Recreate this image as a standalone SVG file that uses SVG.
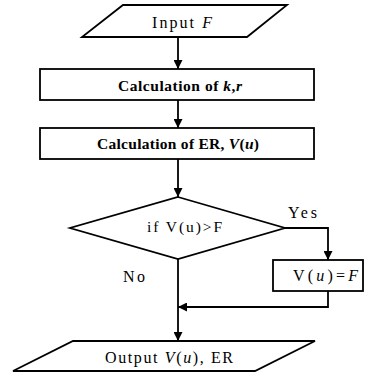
<svg xmlns="http://www.w3.org/2000/svg" width="382" height="376" viewBox="0 0 382 376">
<style>
.s{fill:#fff;stroke:#000;stroke-width:1.8}
.c{fill:none;stroke:#000;stroke-width:1.8}
text{font-family:"Liberation Serif","Times New Roman",serif;font-size:16px;fill:#000}
.b{font-weight:bold;font-size:15.5px}
.m{font-size:15.5px}
.i{font-style:italic}
</style>
<defs>
<marker id="a" viewBox="0 0 10 10" refX="10" refY="5" markerWidth="9" markerHeight="9" markerUnits="userSpaceOnUse" orient="auto">
<path d="M0,0 L10,5 L0,10 z" fill="#000"/>
</marker>
</defs>
<rect width="382" height="376" fill="#fff"/>
<g id="connectors">
<line class="c" x1="178" y1="37" x2="178" y2="69" marker-end="url(#a)"/>
<line class="c" x1="178" y1="100" x2="178" y2="128" marker-end="url(#a)"/>
<line class="c" x1="178" y1="159" x2="178" y2="197" marker-end="url(#a)"/>
<polyline class="c" points="285,228 328,228 328,260" marker-end="url(#a)"/>
<polyline class="c" points="328,291 328,307 178,307" marker-end="url(#a)"/>
<line class="c" x1="178" y1="259" x2="178" y2="341" marker-end="url(#a)"/>
<text x="288" y="218" textLength="29" lengthAdjust="spacing">Yes</text>
<text x="123" y="282" textLength="22" lengthAdjust="spacing">No</text>
</g>
<g id="input">
<polygon class="s" points="123,5 287,5 247,37 82,37"/>
<text x="152" y="28" textLength="60" lengthAdjust="spacing">Input <tspan class="i">F</tspan></text>
</g>
<g id="calc-kr">
<rect class="s" x="40" y="69" width="274" height="31"/>
<text class="b" x="118" y="91" textLength="124" lengthAdjust="spacing">Calculation of <tspan class="i">k</tspan>,<tspan class="i">r</tspan></text>
</g>
<g id="calc-er">
<rect class="s" x="40" y="128" width="274" height="31"/>
<text class="b" x="97" y="149" textLength="162" lengthAdjust="spacing">Calculation of ER, <tspan class="i">V</tspan>(<tspan class="i">u</tspan>)</text>
</g>
<g id="decision">
<polygon class="s" points="178,197 285,228 178,259 70,228"/>
<text class="m" x="147" y="232" textLength="75" lengthAdjust="spacing">if V(u)&gt;F</text>
</g>
<g id="assign">
<rect class="s" x="273" y="260" width="90" height="31"/>
<text x="293" y="281" textLength="65" lengthAdjust="spacing">V(<tspan class="i">u</tspan>)=<tspan class="i">F</tspan></text>
</g>
<g id="output">
<polygon class="s" points="73,341 315,341 255,371 13,371"/>
<text x="105" y="363" textLength="128" lengthAdjust="spacing">Output <tspan class="i">V</tspan>(<tspan class="i">u</tspan>), ER</text>
</g>
</svg>
